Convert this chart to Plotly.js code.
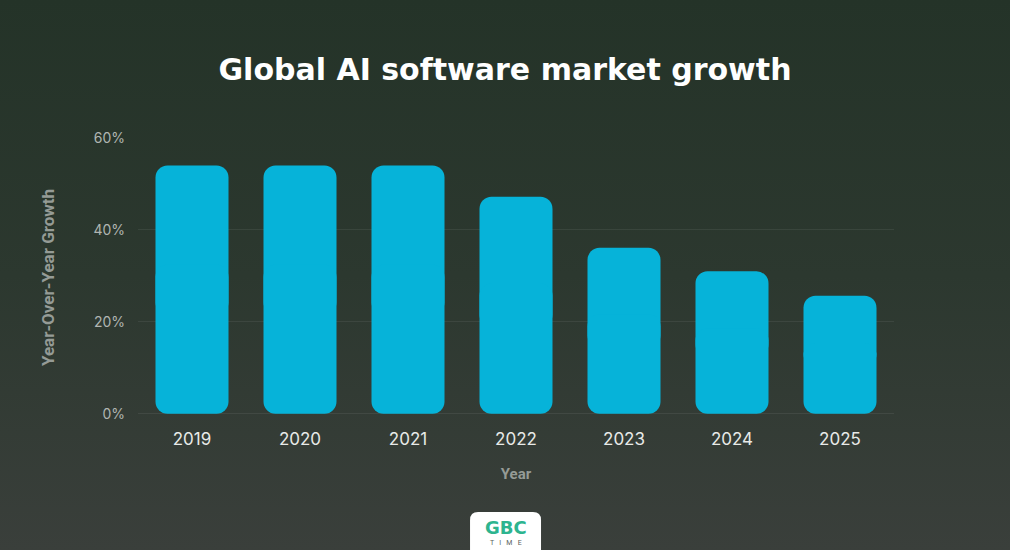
<!DOCTYPE html>
<html>
<head>
<meta charset="utf-8">
<script src="https://cdn.plot.ly/plotly-3.0.1.min.js"></script>
<style>
html,body{margin:0;padding:0;width:1010px;height:550px;overflow:hidden;
background:linear-gradient(180deg,#243328 0%,#2c382f 50%,#3a3f3b 100%);}
#chart{width:1010px;height:550px;}
</style>
</head>
<body>
<div id="chart"></div>
<script>
const years = ['2019','2020','2021','2022','2023','2024','2025'];
const growth = [54, 54, 54, 47.2, 36.1, 31, 25.7];
const yTicks = [0, 20, 40, 60];
const yTickText = ['0%', '20%', '40%', '60%'];

// each bar is drawn as two overlapping pieces so both ends get rounded corners
const upperBase = growth.map(v => v * 0.4);
const upperLen = growth.map(v => v * 0.6);
const lowerBase = growth.map(v => v * 0.6);
const lowerLen = growth.map(v => -v * 0.6);
const barColor = '#06b3d9';

const upper = {
  type: 'bar', x: years, y: upperLen, base: upperBase,
  marker: {color: barColor, cornerradius: 12, line: {width: 0}},
  hovertemplate: '%{x}: %{customdata}%<extra></extra>', customdata: growth
};
const lower = {
  type: 'bar', x: years, y: lowerLen, base: lowerBase,
  marker: {color: barColor, cornerradius: 12, line: {width: 0}},
  hoverinfo: 'skip'
};

const layout = {
  width: 1010, height: 550,
  paper_bgcolor: 'rgba(0,0,0,0)', plot_bgcolor: 'rgba(0,0,0,0)',
  margin: {l: 138, r: 116, t: 138, b: 133},
  showlegend: false,
  barmode: 'overlay', bargap: 0.324,
  title: {text: 'Global AI software market growth', x: 0.5, xanchor: 'center', y: 0.873, yanchor: 'middle',
    font: {family: 'DejaVu Sans, sans-serif', size: 30, color: '#ffffff', weight: 700}},
  xaxis: {
    type: 'category', showgrid: false, zeroline: false, showline: false,
    tickfont: {family: 'Inter, Roboto, sans-serif', size: 17, color: '#e8eae8'},
    ticks: '', ticklabelstandoff: 10,
    title: {text: 'Year', standoff: 20, font: {family: 'Roboto, sans-serif', size: 15, color: '#959b96', weight: 700}}
  },
  yaxis: {
    range: [-0.7, 60], tickvals: yTicks, ticktext: yTickText,
    showgrid: true, gridcolor: 'rgba(255,255,255,0.07)', gridwidth: 1,
    zeroline: false, showline: false, ticks: '',
    tickfont: {family: 'Inter, Roboto, sans-serif', size: 14, color: '#b0b5b1'},
    ticklabelstandoff: 12,
    title: {text: 'Year-Over-Year Growth', standoff: 34, font: {family: 'Roboto, sans-serif', size: 17, color: '#959b96', weight: 700}}
  },
  shapes: [{
    type: 'path', xref: 'paper', yref: 'paper', layer: 'above',
    path: 'M 0.4392,-0.50 L 0.4392,-0.3692 Q 0.4392,-0.3405 0.4498,-0.3405 L 0.5225,-0.3405 Q 0.5331,-0.3405 0.5331,-0.3692 L 0.5331,-0.50 Z',
    fillcolor: '#ffffff', line: {width: 0}
  }],
  annotations: [
    {xref: 'paper', yref: 'paper', x: 0.4862, y: -0.397, text: '<b>GBC</b>', showarrow: false,
      font: {family: 'DejaVu Sans, sans-serif', size: 18, color: '#2db48f'}, yanchor: 'middle'},
    {xref: 'paper', yref: 'paper', x: 0.4862, y: -0.450, text: 'T   I   M   E', showarrow: false,
      font: {family: 'Roboto, sans-serif', size: 7, color: '#5a5f5c'}, yanchor: 'middle'}
  ]
};

Plotly.newPlot('chart', [upper, lower], layout, {displayModeBar: false, responsive: false});
</script>
</body>
</html>
